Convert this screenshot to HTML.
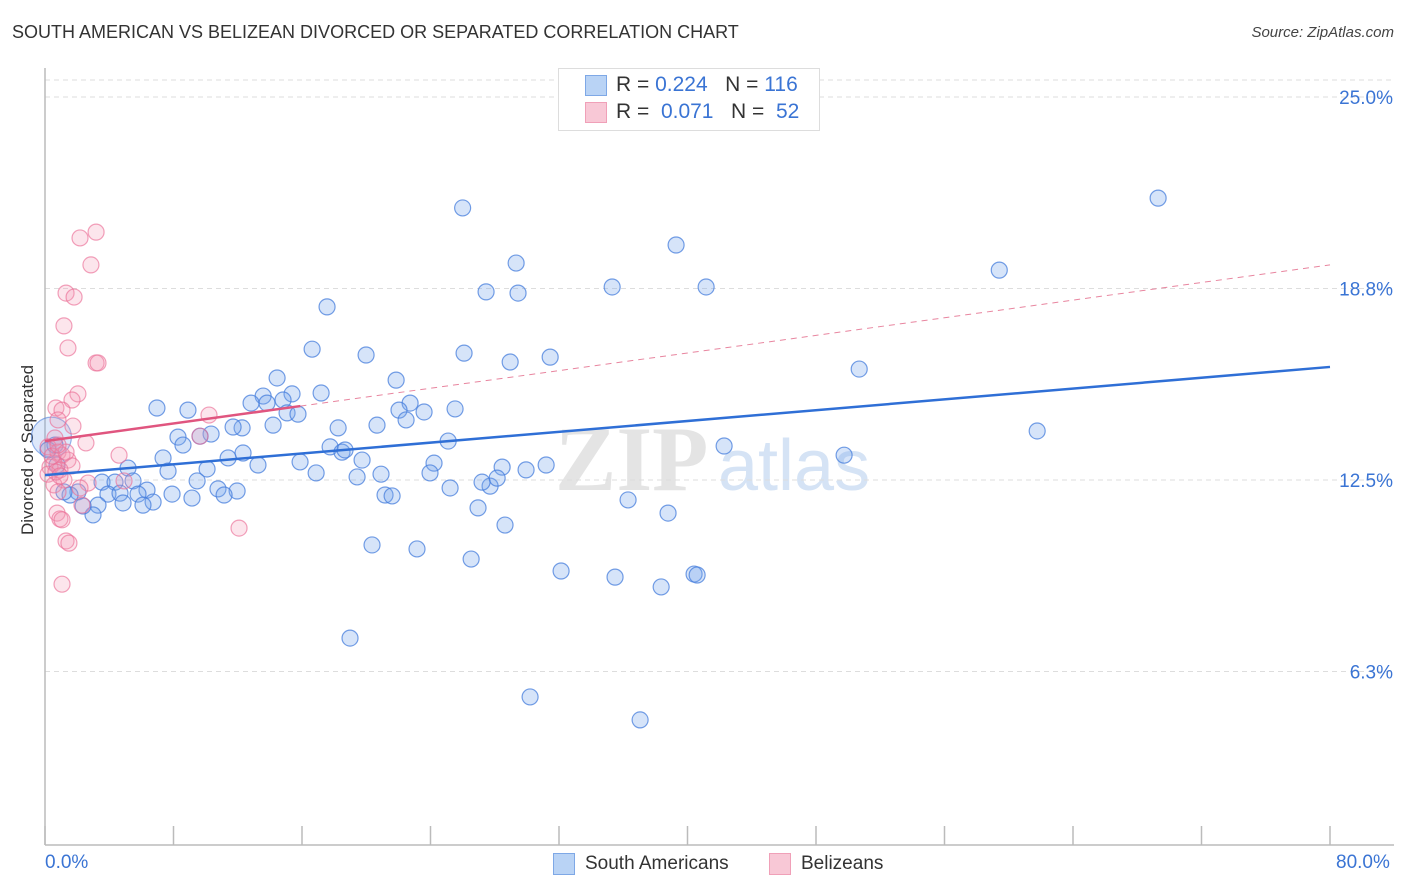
<!DOCTYPE html>
<html><head><meta charset="utf-8"><style>
body{margin:0;background:#fff;font-family:"Liberation Sans",sans-serif;}
#wrap{position:relative;width:1406px;height:892px;overflow:hidden;}
.t{position:absolute;white-space:nowrap;}
</style></head><body>
<div id="wrap">
<div class="t" style="left:12px;top:22px;font-size:18px;color:#333;">SOUTH AMERICAN VS BELIZEAN DIVORCED OR SEPARATED CORRELATION CHART</div>
<div class="t" style="right:12px;top:24px;font-size:15px;color:#444;font-style:italic;">Source: ZipAtlas.com</div>
<div class="t" style="left:-52px;top:445px;font-size:17px;color:#333;transform:rotate(-90deg);width:160px;text-align:center;">Divorced or Separated</div>
<svg id="plot" width="1406" height="892" style="position:absolute;left:0;top:0"></svg>
<div style="position:absolute;left:558px;top:68px;width:260px;height:61px;border:1px solid #ddd;background:#fff;"></div>
<div style="position:absolute;left:585px;top:75px;width:20px;height:19px;background:#b9d3f5;border:1px solid #7ea8e6;"></div>
<div style="position:absolute;left:585px;top:102px;width:20px;height:19px;background:#f8c8d6;border:1px solid #f0a0b8;"></div>
<div class="t" style="left:616px;top:73px;font-size:21px;color:#333;">R = <span style="color:#3a74d4">0.224</span>&nbsp;&nbsp;&nbsp;N = <span style="color:#3a74d4">116</span></div>
<div class="t" style="left:616px;top:100px;font-size:21px;color:#333;">R = &nbsp;<span style="color:#3a74d4">0.071</span>&nbsp;&nbsp;&nbsp;N = &nbsp;<span style="color:#3a74d4">52</span></div>
<div class="t" style="left:45px;top:852px;font-size:19px;color:#3a74d4;">0.0%</div>
<div class="t" style="left:1336px;top:852px;font-size:19px;color:#3a74d4;">80.0%</div>
<div style="position:absolute;left:553px;top:853px;width:20px;height:20px;background:#b9d3f5;border:1px solid #7ea8e6;"></div>
<div class="t" style="left:585px;top:853px;font-size:19px;color:#333;">South Americans</div>
<div style="position:absolute;left:769px;top:853px;width:20px;height:20px;background:#f8c8d6;border:1px solid #f0a0b8;"></div>
<div class="t" style="left:801px;top:853px;font-size:19px;color:#333;">Belizeans</div>
</div>
<script>
const yTicks=[25,18.75,12.5,6.25];
const yTickLabels=["25.0%","18.8%","12.5%","6.3%"];
const xTicks=[0,8,16,24,32,40,48,56,64,72,80];
const blueX=[69.3,26.0,39.29,29.33,59.41,27.46,29.45,35.31,41.16,17.56,16.63,19.99,26.09,28.96,31.45,50.69,14.45,21.86,13.58,15.38,17.19,12.83,13.82,14.82,22.73,6.97,8.90,15.07,15.75,22.04,23.60,25.53,22.48,18.25,20.67,12.27,11.71,14.20,8.28,10.34,9.65,8.59,25.10,17.75,18.49,18.68,42.28,61.77,49.75,7.35,12.33,11.40,15.88,19.74,24.22,13.26,28.46,31.20,5.17,7.66,10.09,16.88,19.43,20.92,23.97,29.95,27.71,28.15,27.21,25.22,3.55,4.36,5.48,6.35,9.47,10.77,11.96,7.91,9.15,11.15,3.92,4.67,5.79,2.05,1.56,1.18,21.17,21.61,36.30,38.79,26.96,6.73,6.10,4.86,3.30,2.99,2.37,28.64,20.36,23.16,26.53,32.13,35.49,38.36,40.41,40.60,18.99,30.20,37.05,0.62,0.19,0.75];
const blueY=[21.70,21.38,20.17,19.58,19.35,18.64,18.60,18.80,18.80,18.15,16.77,16.58,16.64,16.35,16.51,16.12,15.83,15.76,15.24,15.31,15.34,15.01,15.01,15.11,15.01,14.85,14.78,14.69,14.65,14.78,14.72,14.82,14.46,14.20,14.29,14.20,14.23,14.29,13.90,14.00,13.93,13.64,13.77,13.58,13.41,13.48,13.61,14.10,13.31,13.22,13.38,13.22,13.09,13.15,13.05,12.99,12.92,12.99,12.89,12.79,12.86,12.73,12.60,12.69,12.73,12.83,12.30,12.56,12.43,12.24,12.43,12.43,12.47,12.17,12.47,12.21,12.14,12.04,11.91,12.01,12.04,12.07,12.04,12.11,12.01,12.11,12.01,11.98,11.85,11.42,11.59,11.78,11.68,11.75,11.68,11.36,11.65,11.03,10.38,10.25,9.92,9.53,9.33,9.01,9.43,9.40,7.34,5.42,4.67,13.64,13.48,12.99];
const pinkX=[3.18,2.18,2.86,1.31,1.81,1.18,1.43,3.18,3.30,2.05,1.68,0.68,1.06,10.21,0.81,1.74,9.65,0.62,2.55,0.19,0.81,1.06,1.43,0.56,0.31,1.68,4.61,0.93,0.19,1.18,4.92,0.56,2.68,2.18,0.81,2.30,0.75,0.93,1.06,1.31,1.49,12.08,1.06,0.68,0.93,0.44,1.31,0.81];
const pinkY=[20.59,20.40,19.52,18.60,18.47,17.53,16.81,16.32,16.32,15.31,15.11,14.85,14.78,14.62,14.46,14.26,13.93,13.87,13.71,13.58,13.41,13.31,13.15,13.05,12.92,12.96,13.31,12.83,12.69,12.50,12.47,12.34,12.40,12.24,12.11,11.68,11.42,11.23,11.20,10.51,10.44,10.93,9.10,12.76,12.63,13.28,13.41,13.64];
const blueTrend=[12.66,16.19];
const pinkTrend=[13.77,19.52];
const pinkSolidEnd=15.9;

const X0=45,X1=1330,Ytop=97,Ybot=845;
const sx=v=>X0+(X1-X0)*v/80;
const sy=v=>Ytop+(25-v)*30.64;
const svg=document.getElementById('plot');
const NS='http://www.w3.org/2000/svg';
function mk(tag,attrs){const e=document.createElementNS(NS,tag);for(const k in attrs)e.setAttribute(k,attrs[k]);svg.appendChild(e);return e;}

// watermark
let wm=mk('text',{x:555,y:490,'font-size':92,'font-family':'Liberation Serif, serif',fill:'#e4e4e4','font-weight':'bold'});
wm.textContent='ZIP';


let wm2=mk('text',{x:718,y:490,'font-size':72,'font-family':'Liberation Sans, sans-serif',fill:'#d5e3f5'});
wm2.textContent='atlas';



// gridlines
let tg=mk('line',{x1:X0,x2:1394,y1:80,y2:80,stroke:'#ddd','stroke-dasharray':'5,4'});


yTicks.forEach((t,i)=>{
  let g=mk('line',{x1:X0,x2:1394,y1:sy(t),y2:sy(t),stroke:'#ddd','stroke-dasharray':'5,4'});
  
  
  let tx=mk('text',{x:1393,y:sy(t)+7,'text-anchor':'end','font-size':19,fill:'#3a74d4','font-family':'Liberation Sans, sans-serif'});
  tx.textContent=yTickLabels[i];
  
  
});
// axes
let ya=mk('line',{x1:X0,x2:X0,y1:68,y2:Ybot,stroke:'#bbb','stroke-width':1.5});


let xa=mk('line',{x1:X0,x2:1394,y1:Ybot,y2:Ybot,stroke:'#bbb','stroke-width':1.5});


xTicks.forEach(t=>{
  let l=mk('line',{x1:sx(t),x2:sx(t),y1:826,y2:Ybot,stroke:'#bbb','stroke-width':1.5});
  
  
});

// pink dashed trend
let pd=mk('line',{x1:sx(pinkSolidEnd),y1:sy(pinkTrend[0]+(pinkTrend[1]-pinkTrend[0])*pinkSolidEnd/80),x2:sx(80),y2:sy(pinkTrend[1]),stroke:'#e8859f','stroke-width':1,'stroke-dasharray':'6,5'});



// big blue circle
let bc=mk('circle',{cx:sx(0.4),cy:sy(13.9),r:20,fill:'rgba(120,165,235,0.25)',stroke:'rgba(80,130,220,0.6)','stroke-width':1.2});



blueX.forEach((x,i)=>{
  let c=mk('circle',{cx:sx(x),cy:sy(blueY[i]),r:8,fill:'rgba(120,165,235,0.3)',stroke:'rgba(70,125,220,0.75)','stroke-width':1.2});
  
  
});
pinkX.forEach((x,i)=>{
  let c=mk('circle',{cx:sx(x),cy:sy(pinkY[i]),r:8,fill:'rgba(245,150,180,0.25)',stroke:'rgba(235,110,150,0.65)','stroke-width':1.2});
  
  
});

let bl=mk('line',{x1:sx(0),y1:sy(blueTrend[0]),x2:sx(80),y2:sy(blueTrend[1]),stroke:'#2f6fd6','stroke-width':2.5});


let pl=mk('line',{x1:sx(0),y1:sy(pinkTrend[0]),x2:sx(pinkSolidEnd),y2:sy(pinkTrend[0]+(pinkTrend[1]-pinkTrend[0])*pinkSolidEnd/80),stroke:'#e0557f','stroke-width':2.5});


</script>
</body></html>
